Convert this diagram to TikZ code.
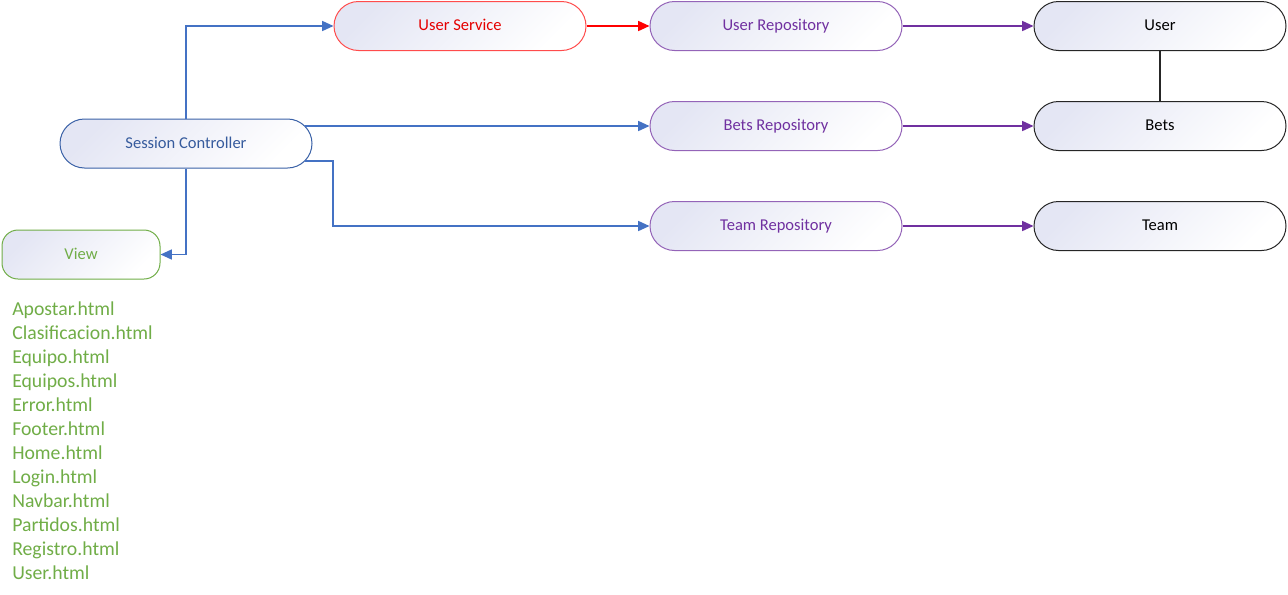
\documentclass[tikz,border=0pt]{standalone}
\usepackage{fontspec}
\setmainfont{Carlito}
\newfontfamily\listfont{Carlito}
\usetikzlibrary{arrows.meta}
\definecolor{cblue}{HTML}{4472C4}
\definecolor{cred}{HTML}{FF0000}
\definecolor{cpurple}{HTML}{7030A0}
\definecolor{cgreen}{HTML}{70AD47}
\definecolor{cfill}{HTML}{E4E6F4}
\tikzset{
  pill/.style={rounded corners=18.4pt, minimum width=189pt, minimum height=36.75pt,
    draw, line width=0.75pt, shading=axis, top color=cfill, bottom color=white, shading angle=45,
    font=\fontsize{12.4}{14}\selectfont, inner sep=0pt, text height=8.4pt, text depth=1.6pt},
  svc/.style={pill, draw=cred!70, text=cred!90!black},
  repo/.style={pill, draw=cpurple!75, text=cpurple},
  ent/.style={pill, draw=black!85, text=black},
  ctrl/.style={pill, draw=cblue!85!black, text=cblue!80!black},
  viewbox/.style={pill, rounded corners=12pt, minimum width=118.5pt, draw=cgreen, text=cgreen},
  conn/.style={line width=1.1pt, -{Triangle[length=8.5pt,width=7.5pt]}},
  bl/.style={conn, draw=cblue},
  rd/.style={conn, draw=cred},
  pu/.style={conn, draw=cpurple},
}
\begin{document}
\begin{tikzpicture}[x=0.75pt,y=-0.75pt]
\useasboundingbox (0,0) rectangle (1288,594);
\node[svc]  (us)   at (460,26) {User Service};
\node[repo] (ur)   at (776,26) {User Repository};
\node[ent]  (user) at (1160,26) {User};
\node[ctrl] (sc)   at (186,143.5) {Session Controller};
\node[repo] (br)   at (776,126) {Bets Repository};
\node[ent]  (bets) at (1160,126) {Bets};
\node[repo] (tr)   at (776,226) {Team Repository};
\node[ent]  (team) at (1160,226) {Team};
\node[viewbox] (view) at (81,254.5) {View};
\coordinate (sc1) at (305,126);
\coordinate (sc2) at (305,161);
\draw[bl] (sc.north) |- (us.west);
\draw[bl] (sc1) -- (br.west);
\draw[bl] (sc2) -- (333,161) |- (tr.west);
\draw[bl] (sc.south) |- (view.east);
\draw[rd] (us) -- (ur);
\draw[pu] (ur) -- (user);
\draw[pu] (br) -- (bets);
\draw[pu] (tr) -- (team);
\draw[line width=1.1pt, black!85] (user) -- (bets);
\node[anchor=north west, align=left, text=cgreen, inner sep=0pt,
  font=\listfont\fontsize{14.8}{18}\selectfont] (list) at (12,302) {Apostar.html\\Clasificacion.html\\Equipo.html\\Equipos.html\\Error.html\\Footer.html\\Home.html\\Login.html\\Navbar.html\\Partidos.html\\Registro.html\\User.html};
\end{tikzpicture}
\end{document}
